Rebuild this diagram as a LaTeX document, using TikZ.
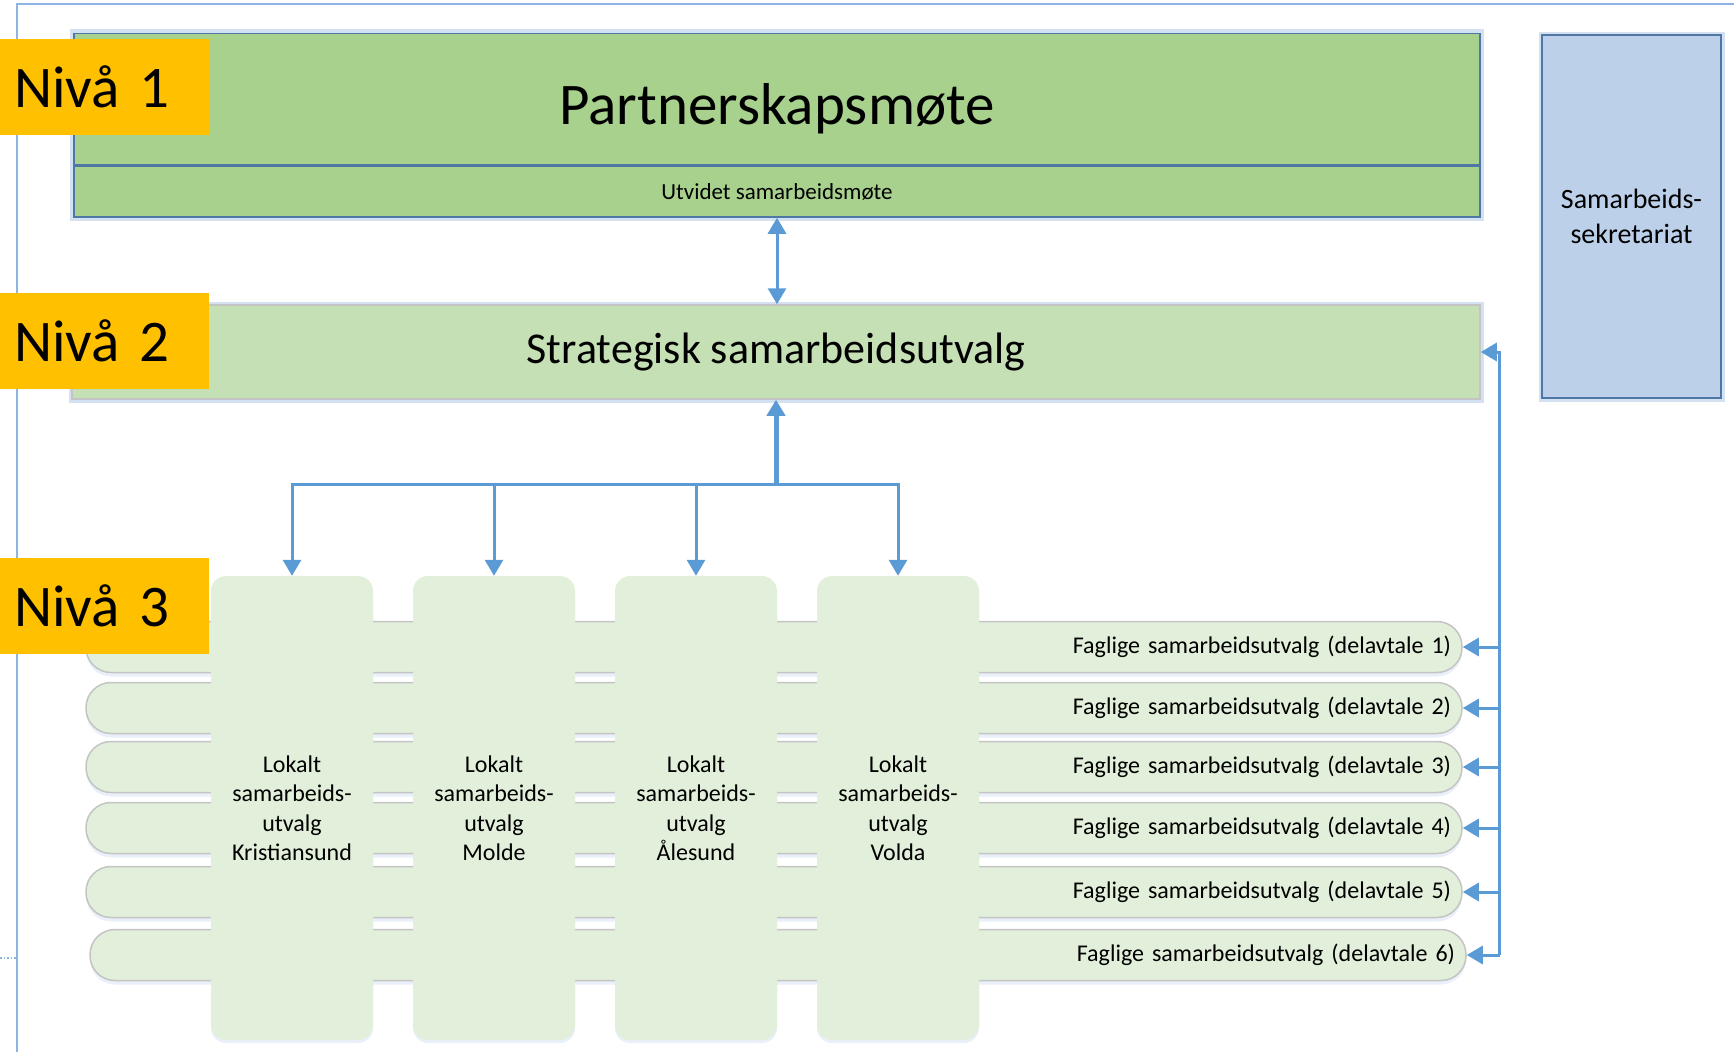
\documentclass[tikz,border=0pt]{standalone}
\usepackage{fontspec}
\setmainfont{Carlito}
\usetikzlibrary{arrows.meta,positioning,shadows,backgrounds}

\definecolor{nivaorange}{HTML}{FFC000}
\definecolor{topgreen}{HTML}{A9D18E}
\definecolor{midgreen}{HTML}{C5E0B4}
\definecolor{palegreen}{HTML}{E2EFDA}
\definecolor{sekblue}{HTML}{BDD0E9}
\definecolor{edgeblue}{HTML}{4F77A6}
\definecolor{arrowblue}{HTML}{5B9BD5}
\definecolor{frameblue}{HTML}{8EB4E3}
\definecolor{glowblue}{HTML}{D3E1F3}
\definecolor{rowgray}{HTML}{C4C4C4}

\begin{document}
\begin{tikzpicture}[x=1pt,y=-1pt,
	glow/.style={preaction={draw=glowblue,line width=7pt}},
	niva/.style={fill=nivaorange,minimum width=209pt,minimum height=96pt,text width=181pt,inner xsep=14pt,align=left,font=\fontsize{59}{70}\selectfont},
	lokal/.style={fill=palegreen,rounded corners=15pt,minimum width=162pt,minimum height=464pt,align=center,font=\fontsize{24}{29.5}\selectfont,drop shadow={shadow xshift=0pt,shadow yshift=-3pt,fill=glowblue}},
	fagrow/.style={fill=palegreen,draw=rowgray,line width=1.5pt,rounded corners=25pt,minimum height=51pt,text width=1354pt,inner xsep=11pt,align=right,font=\fontsize{24}{28}\selectfont,drop shadow={shadow xshift=0pt,shadow yshift=-4pt,fill=glowblue}},
	link/.style={draw=arrowblue,line width=3pt,-{Triangle[length=16pt,width=18pt]}}]
	\useasboundingbox (0,0) rectangle (1734,1052);

	\draw[frameblue,line width=1.5pt] (1734,4) -- (17,4) -- (17,1052);
	\draw[frameblue,line width=1.5pt,dotted] (0,958) -- (17,958);

	% faglige samarbeidsutvalg
	\foreach \i/\y/\dx in {1/647/0,2/708/0,3/767/0,4/828/0,5/892/0,6/955/4}
		\node[fagrow] (fag\i) at (774+\dx,\y) {Faglige samarbeidsutvalg (delavtale \i)};

	% lokale utvalg
	\foreach \i/\x/\town in {1/292/Kristiansund,2/494/Molde,3/696/Ålesund,4/898/Volda}
		\node[lokal] (lok\i) at (\x,808) {Lokalt\\samarbeids-\\utvalg\\\town};

	\node[fill=topgreen,draw=edgeblue,line width=1.5pt,minimum width=1406pt,minimum height=51pt,font=\fontsize{23}{26}\selectfont] (utvidet) at (777,191.5) {Utvidet samarbeidsmøte};
	\node[fill=topgreen,draw=edgeblue,line width=1.5pt,minimum width=1406pt,minimum height=131pt,above=0pt of utvidet,
		label={[font=\fontsize{59}{66}\selectfont,yshift=-10pt]center:Partnerskapsmøte}] (partner) {};
	\begin{scope}[on background layer]
		\draw[glowblue,line width=7pt] (partner.north west) rectangle (utvidet.south east);
	\end{scope}

	\node[fill=midgreen,draw=rowgray,line width=1.5pt,glow,minimum width=1408pt,minimum height=94pt,font=\fontsize{44}{50}\selectfont] (strat) at (776,352) {Strategisk samarbeidsutvalg};

	\node[fill=sekblue,draw=edgeblue,line width=1.5pt,glow,minimum width=179pt,minimum height=363pt,align=center,font=\fontsize{28}{35}\selectfont] (sek) at (1631.5,216.5) {Samarbeids-\\sekretariat};

	\node[niva] (niva1) at (104.5,87) {Nivå 1};
	\node[niva] (niva2) at (104.5,341) {Nivå 2};
	\node[niva] (niva3) at (104.5,606) {Nivå 3};

	% piler
	\draw[link,{Triangle[length=16pt,width=18pt]}-{Triangle[length=16pt,width=18pt]}] (utvidet.south) -- (utvidet.south |- strat.north);

	\coordinate (hub) at ([yshift=-85pt]strat.south);
	\draw[link,line width=5pt] (hub) -- (strat.south);
	\foreach \i in {1,...,4}
		\draw[link] (hub) -| (lok\i.north);

	\coordinate (bus) at ([xshift=19pt]strat.east);
	\draw[link] (bus |- fag6.east) |- (strat.east);
	\foreach \i in {1,...,6}
		\draw[link] (bus |- fag\i.east) -- (fag\i.east);
\end{tikzpicture}
\end{document}
